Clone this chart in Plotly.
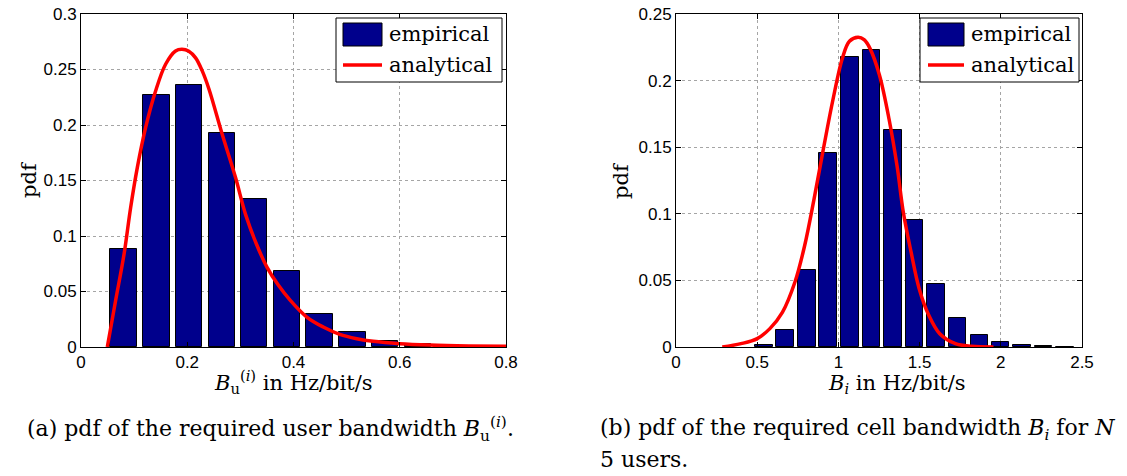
import plotly.graph_objects as go

# ---------------- data ----------------
# (a) pdf of the required user bandwidth: histogram
a_bar_x = [0.080, 0.142, 0.203, 0.265, 0.326, 0.388, 0.449, 0.511, 0.572, 0.634, 0.695, 0.757]
a_bar_y = [0.0884, 0.2266, 0.2357, 0.1924, 0.1329, 0.0688, 0.0301, 0.0135, 0.0057, 0.0025, 0.0010, 0.0005]
# (a) analytical curve
a_cur_x = [0.0495, 0.065, 0.081, 0.0934, 0.106, 0.1216, 0.1404, 0.1592, 0.178, 0.190, 0.203, 0.2157, 0.228,
           0.2408, 0.2658, 0.2909, 0.3097, 0.330, 0.350, 0.371, 0.394, 0.425, 0.456, 0.487, 0.519, 0.550,
           0.600, 0.657, 0.730, 0.800]
a_cur_y = [0.0, 0.0414, 0.0835, 0.1255, 0.1616, 0.1976, 0.2306, 0.2547, 0.2667, 0.2682, 0.2665, 0.2605, 0.2490,
           0.2325, 0.1916, 0.1526, 0.1195, 0.093, 0.072, 0.056, 0.042, 0.027, 0.018, 0.0114, 0.0075, 0.0051,
           0.0030, 0.0018, 0.0010, 0.0006]

# (b) pdf of the required cell bandwidth: histogram
b_bar_x = [0.541, 0.672, 0.806, 0.935, 1.070, 1.204, 1.335, 1.468, 1.600, 1.734, 1.868, 1.999, 2.132, 2.263, 2.395]
b_bar_y = [0.0012, 0.0125, 0.058, 0.146, 0.2174, 0.2227, 0.163, 0.0957, 0.0471, 0.0218, 0.0090, 0.0040, 0.0015, 0.0007, 0.0003]
# (b) analytical curve
b_cur_x = [0.285, 0.400, 0.500, 0.578, 0.655, 0.733, 0.792, 0.850, 0.908, 0.967, 1.025, 1.068, 1.121,
           1.160, 1.195, 1.253, 1.312, 1.361, 1.400, 1.448, 1.497, 1.556, 1.624, 1.721, 1.819, 1.955]
b_cur_y = [0.0, 0.0025, 0.0063, 0.0138, 0.026, 0.049, 0.076, 0.111, 0.149, 0.186, 0.217, 0.2295, 0.2325,
           0.2305, 0.224, 0.204, 0.171, 0.136, 0.101, 0.071, 0.044, 0.024, 0.010, 0.0025, 0.0005, 0.0]

a_xticks = [0, 0.2, 0.4, 0.6, 0.8]
a_xticklabels = ["0", "0.2", "0.4", "0.6", "0.8"]
a_yticks = [0, 0.05, 0.1, 0.15, 0.2, 0.25, 0.3]
a_yticklabels = ["0", "0.05", "0.1", "0.15", "0.2", "0.25", "0.3"]
b_xticks = [0, 0.5, 1, 1.5, 2, 2.5]
b_xticklabels = ["0", "0.5", "1", "1.5", "2", "2.5"]
b_yticks = [0, 0.05, 0.1, 0.15, 0.2, 0.25]
b_yticklabels = ["0", "0.05", "0.1", "0.15", "0.2", "0.25"]

series_names = ["empirical", "analytical"]

# ---------------- figure ----------------
W, H = 1127, 476
BAR = "rgb(0,0,140)"
RED = "rgb(255,0,0)"
SERIF = "DejaVu Serif, Liberation Serif, serif"
SANS = "Liberation Sans, Arial, sans-serif"


def px_x(p):
    return p / W


def px_y(p):
    return 1 - p / H


fig = go.Figure()
fig.add_trace(go.Bar(x=a_bar_x, y=a_bar_y, width=0.05, marker=dict(color=BAR, line=dict(color="black", width=1)),
                     name=series_names[0], xaxis="x", yaxis="y"))
fig.add_trace(go.Scatter(x=a_cur_x, y=a_cur_y, mode="lines",
                         line=dict(color=RED, width=3.5, shape="spline", smoothing=1.0),
                         name=series_names[1], xaxis="x", yaxis="y"))
fig.add_trace(go.Bar(x=b_bar_x, y=b_bar_y, width=0.109, marker=dict(color=BAR, line=dict(color="black", width=1)),
                     name=series_names[0], xaxis="x2", yaxis="y2"))
fig.add_trace(go.Scatter(x=b_cur_x, y=b_cur_y, mode="lines",
                         line=dict(color=RED, width=3.5, shape="spline", smoothing=1.0),
                         name=series_names[1], xaxis="x2", yaxis="y2"))

axis_common = dict(showline=True, linecolor="black", linewidth=1, mirror="ticks", ticks="inside", ticklen=5,
                   tickcolor="black", showgrid=True, gridcolor="rgb(165,165,165)", griddash="dot", gridwidth=1,
                   zeroline=False, tickfont=dict(family=SANS, size=17, color="black"))

ydom = [px_y(347), px_y(14)]
fig.update_layout(
    width=W, height=H, margin=dict(l=0, r=0, t=0, b=0, autoexpand=False),
    paper_bgcolor="white", plot_bgcolor="white", bargap=0, showlegend=False,
    xaxis=dict(domain=[px_x(81), px_x(506)], range=[0, 0.8], tickvals=a_xticks, ticktext=a_xticklabels,
               anchor="y", **axis_common),
    yaxis=dict(domain=ydom, range=[0, 0.3], tickvals=a_yticks, ticktext=a_yticklabels, anchor="x", **axis_common),
    xaxis2=dict(domain=[px_x(676), px_x(1082)], range=[0, 2.5], tickvals=b_xticks, ticktext=b_xticklabels,
                anchor="y2", **axis_common),
    yaxis2=dict(domain=ydom, range=[0, 0.25], tickvals=b_yticks, ticktext=b_yticklabels, anchor="x2", **axis_common),
)

# ---- legends (drawn boxes, real text) ----
LEG_FONT = dict(family=SERIF, size=21, color="black")
for (bx0, bx1, sx0, sx1, tx) in [(336, 502, 343, 382, 387), (920, 1079, 928, 964, 969)]:
    fig.add_shape(type="rect", xref="paper", yref="paper", x0=px_x(bx0), x1=px_x(bx1), y0=px_y(82), y1=px_y(18),
                  line=dict(color="black", width=1), fillcolor="white", layer="above")
    fig.add_shape(type="rect", xref="paper", yref="paper", x0=px_x(sx0), x1=px_x(sx1), y0=px_y(46), y1=px_y(23),
                  line=dict(color="black", width=1), fillcolor=BAR, layer="above")
    fig.add_shape(type="line", xref="paper", yref="paper", x0=px_x(sx0), x1=px_x(sx1), y0=px_y(65), y1=px_y(65),
                  line=dict(color=RED, width=3.5), layer="above")
    fig.add_annotation(xref="paper", yref="paper", showarrow=False, font=LEG_FONT, xanchor="left", yanchor="middle",
                       text=series_names[0], x=px_x(tx), y=px_y(34))
    fig.add_annotation(xref="paper", yref="paper", showarrow=False, font=LEG_FONT, xanchor="left", yanchor="middle",
                       text=series_names[1], x=px_x(tx), y=px_y(65))

# ---- axis titles ----
lab_font = dict(family=SERIF, size=21, color="black")
anns = [
    dict(text="pdf", x=px_x(29), y=px_y(180), textangle=-90),
    dict(text="pdf", x=px_x(621), y=px_y(180), textangle=-90),
    dict(text="<i>B</i><sub>u</sub><sup>(<i>i</i>)</sup> in Hz/bit/s", x=px_x(293), y=px_y(382)),
    dict(text="<i>B<sub>i</sub></i> in Hz/bit/s", x=px_x(897), y=px_y(384)),
]
for a in anns:
    fig.add_annotation(xref="paper", yref="paper", showarrow=False, font=lab_font, xanchor="center",
                       yanchor="middle", **a)

# ---- captions ----
cap_font = dict(family=SERIF, size=22, color="black")
fig.add_annotation(xref="paper", yref="paper", showarrow=False, font=cap_font, xanchor="left", yanchor="middle",
                   text="(a) pdf of the required user bandwidth <i>B</i><sub>u</sub><sup>(<i>i</i>)</sup>.",
                   x=px_x(25), y=px_y(429))
fig.add_annotation(xref="paper", yref="paper", showarrow=False, font=cap_font, xanchor="left", yanchor="middle",
                   text="(b) pdf of the required cell bandwidth <i>B<sub>i</sub></i> for <i>N</i>",
                   x=px_x(598), y=px_y(429))
fig.add_annotation(xref="paper", yref="paper", showarrow=False, font=cap_font, xanchor="left", yanchor="middle",
                   text="5 users.", x=px_x(598), y=px_y(459))

fig.write_html("out.html")
